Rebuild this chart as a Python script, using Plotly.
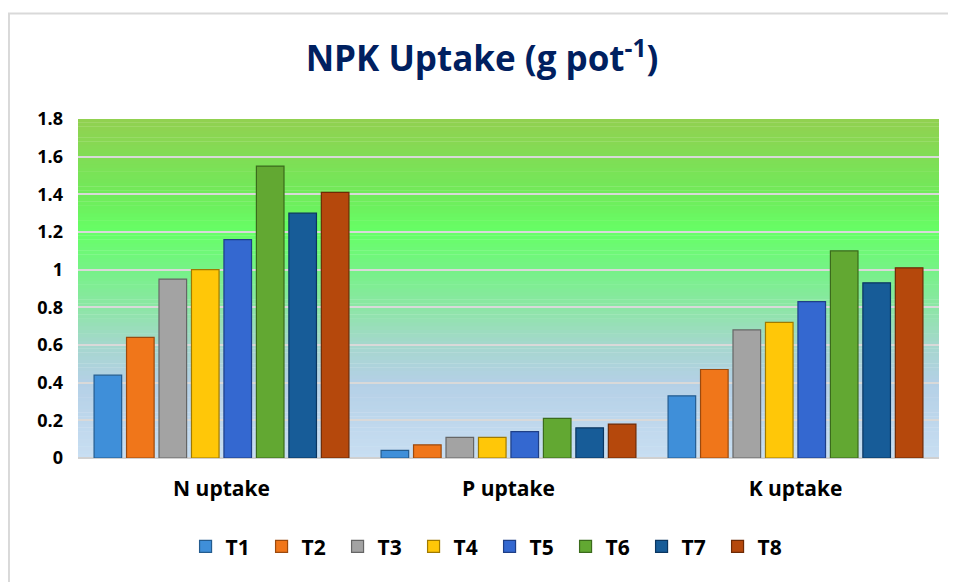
import plotly.graph_objects as go

# data
categories = ["N uptake", "P uptake", "K uptake"]
treatments = ["T1", "T2", "T3", "T4", "T5", "T6", "T7", "T8"]
n_uptake = [0.44, 0.64, 0.95, 1.00, 1.16, 1.55, 1.30, 1.41]
p_uptake = [0.04, 0.07, 0.11, 0.11, 0.14, 0.21, 0.16, 0.18]
k_uptake = [0.33, 0.47, 0.68, 0.72, 0.83, 1.10, 0.93, 1.01]
y_ticks = [0, 0.2, 0.4, 0.6, 0.8, 1, 1.2, 1.4, 1.6, 1.8]

bar_colors = ["#3F8FD9", "#F0761A", "#A3A3A3", "#FFC708", "#3468D0", "#62A832", "#175C98", "#B5480C"]
edge_colors = ["#245C8F", "#9C4A0E", "#666666", "#A07A00", "#1F3F86", "#3B6B1C", "#0B3660", "#6E2A05"]

fig = go.Figure()

for i, t in enumerate(treatments):
    vals = [n_uptake[i], p_uptake[i], k_uptake[i]]
    fig.add_trace(go.Bar(
        x=categories, y=vals, name="<b>%s</b>" % t,
        marker=dict(color=bar_colors[i], line=dict(color=edge_colors[i], width=1.2)),
    ))

# gradient background for the plot area (blue at bottom -> green at top)
stops = [
    (0.0, (200, 222, 242)),
    (0.4, (180, 208, 230)),
    (0.6, (165, 215, 205)),
    (0.8, (140, 230, 165)),
    (1.0, (118, 242, 135)),
    (1.2, (102, 255, 102)),
    (1.4, (112, 234, 90)),
    (1.8, (146, 208, 80)),
]


def grad_color(v):
    for (a, ca), (b, cb) in zip(stops[:-1], stops[1:]):
        if a <= v <= b:
            f = (v - a) / (b - a)
            c = [round(ca[k] + (cb[k] - ca[k]) * f) for k in range(3)]
            return "rgb(%d,%d,%d)" % tuple(c)
    return "rgb(%d,%d,%d)" % stops[-1][1]


shapes = []
n_strips = 90
for s in range(n_strips):
    y0 = 1.8 * s / n_strips
    y1 = 1.8 * (s + 1) / n_strips
    shapes.append(dict(
        type="rect", xref="x domain", yref="y", x0=0, x1=1, y0=y0, y1=y1 + 0.002,
        fillcolor=grad_color((y0 + y1) / 2), line=dict(width=0), layer="below",
    ))

# outer chart frame (right / bottom edges fall outside the picture)
shapes.append(dict(
    type="rect", xref="paper", yref="paper", x0=-0.0802, x1=1.06, y0=-0.45, y1=1.311,
    line=dict(color="#D9D9D9", width=2), fillcolor="rgba(0,0,0,0)", layer="below",
))

fig.update_layout(
    width=948, height=574,
    margin=dict(l=70, r=17, t=111, b=124),
    paper_bgcolor="white",
    plot_bgcolor="rgba(0,0,0,0)",
    font=dict(family="Open Sans", color="black"),
    title=dict(
        text="<b>NPK Uptake (g pot<sup>-1</sup>)</b>",
        x=0.5, xanchor="center", y=0.911, yanchor="middle",
        font=dict(size=35, color="#002060", family="Open Sans"),
    ),
    barmode="group",
    bargap=0.095,
    bargroupgap=0.15,
    shapes=shapes,
    legend=dict(
        orientation="h", x=0.478, xanchor="center", y=-0.262, yanchor="middle",
        font=dict(size=21, family="Open Sans"),
        entrywidth=31, entrywidthmode="pixels", itemwidth=30,
        traceorder="normal",
    ),
    showlegend=True,
)

fig.update_yaxes(
    range=[0, 1.8], tickvals=y_ticks, ticktext=["<b>%g</b>" % v for v in y_ticks],
    showgrid=True, gridcolor="#D9D9D9", gridwidth=2,
    zeroline=True, zerolinecolor="#D0D0D0", zerolinewidth=2,
    tickfont=dict(size=18, family="Open Sans"), ticklabelstandoff=14,
    showline=False,
)
fig.update_xaxes(
    tickvals=categories, ticktext=["<b>%s</b>" % c for c in categories],
    tickfont=dict(size=21, family="Open Sans"), ticklabelstandoff=16,
    showline=False, showgrid=False,
)

fig.write_html("out.html")
